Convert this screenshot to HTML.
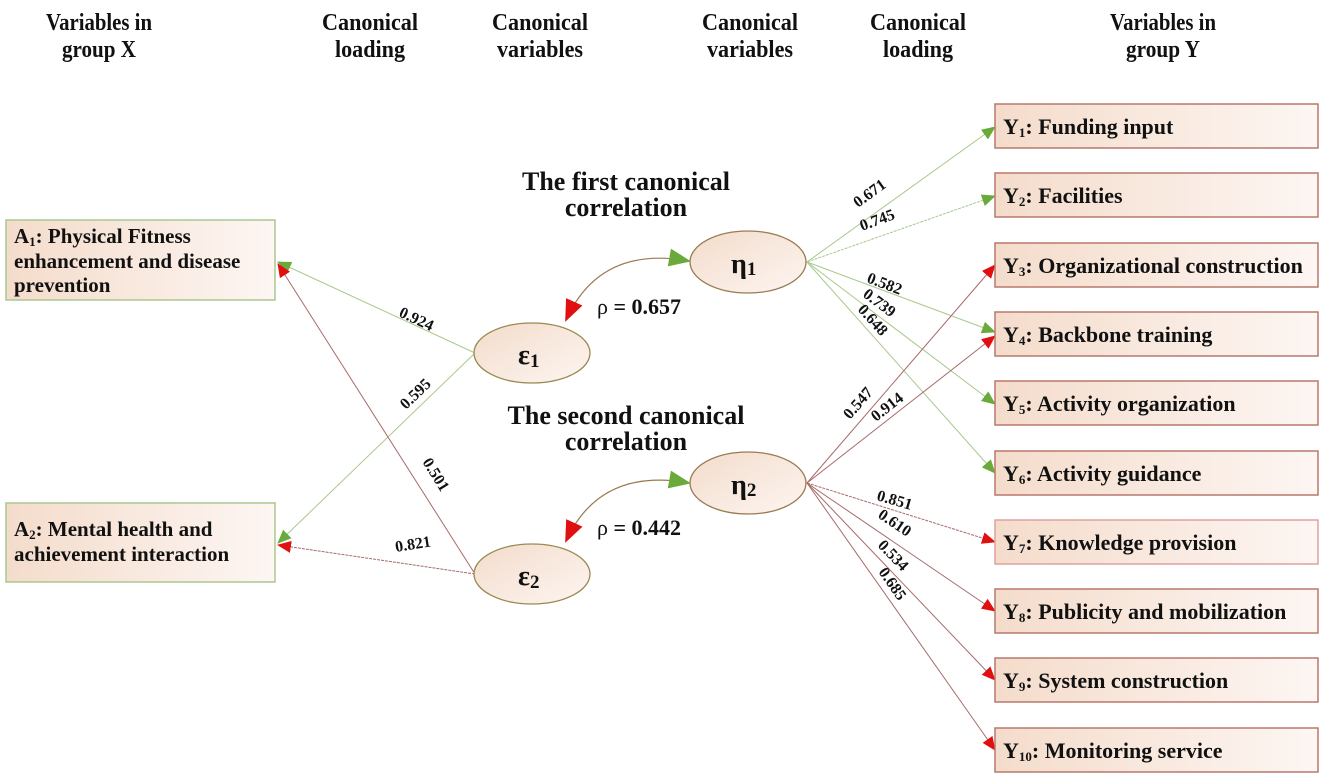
<!DOCTYPE html>
<html><head><meta charset="utf-8"><style>
html,body{margin:0;padding:0;background:#fff;}
svg{display:block;}
text{font-family:"Liberation Serif",serif;font-weight:bold;fill:#111;}
</style></head><body>
<svg width="1325" height="778" viewBox="0 0 1325 778" xmlns="http://www.w3.org/2000/svg">
<defs>
<linearGradient id="bx" x1="0" x2="1" y1="0" y2="0"><stop offset="0" stop-color="#f4dccb"/><stop offset="1" stop-color="#fdf6f3"/></linearGradient>
<linearGradient id="el" x1="0" x2="1" y1="0" y2="1"><stop offset="0" stop-color="#f3dccb"/><stop offset="1" stop-color="#fdf5f1"/></linearGradient>
<marker id="ag" markerWidth="14" markerHeight="12" refX="13" refY="6" orient="auto" markerUnits="userSpaceOnUse"><path d="M0,0 L14,6 L0,12 z" fill="#6aaa3a"/></marker>
<marker id="ar" markerWidth="14" markerHeight="12" refX="13" refY="6" orient="auto" markerUnits="userSpaceOnUse"><path d="M0,0 L14,6 L0,12 z" fill="#e01010"/></marker>
<marker id="bg" markerWidth="22" markerHeight="18" refX="20" refY="9" orient="auto-start-reverse" markerUnits="userSpaceOnUse"><path d="M0,0 L22,9 L0,18 z" fill="#6aaa3a"/></marker>
<marker id="br" markerWidth="22" markerHeight="18" refX="20" refY="9" orient="auto" markerUnits="userSpaceOnUse"><path d="M0,0 L22,9 L0,18 z" fill="#e01010"/></marker>
</defs>

<!-- headers -->
<g font-size="24" text-anchor="middle">
<text x="99" y="30" textLength="106" lengthAdjust="spacingAndGlyphs">Variables in</text>
<text x="99" y="57" textLength="74" lengthAdjust="spacingAndGlyphs">group X</text>
<text x="370" y="30" textLength="96" lengthAdjust="spacingAndGlyphs">Canonical</text>
<text x="370" y="57" textLength="70" lengthAdjust="spacingAndGlyphs">loading</text>
<text x="540" y="30" textLength="96" lengthAdjust="spacingAndGlyphs">Canonical</text>
<text x="540" y="57" textLength="86" lengthAdjust="spacingAndGlyphs">variables</text>
<text x="750" y="30" textLength="96" lengthAdjust="spacingAndGlyphs">Canonical</text>
<text x="750" y="57" textLength="86" lengthAdjust="spacingAndGlyphs">variables</text>
<text x="918" y="30" textLength="96" lengthAdjust="spacingAndGlyphs">Canonical</text>
<text x="918" y="57" textLength="70" lengthAdjust="spacingAndGlyphs">loading</text>
<text x="1163" y="30" textLength="106" lengthAdjust="spacingAndGlyphs">Variables in</text>
<text x="1163" y="57" textLength="74" lengthAdjust="spacingAndGlyphs">group Y</text>
</g>

<!-- left boxes -->
<rect x="6" y="220" width="269" height="80" fill="url(#bx)" stroke="#a9c98e" stroke-width="1.5"/>
<text x="14" y="243" font-size="21">A<tspan font-size="13" dy="3">1</tspan><tspan dy="-3">: Physical Fitness</tspan></text>
<text x="14" y="268" font-size="21">enhancement and disease</text>
<text x="14" y="292" font-size="21">prevention</text>
<rect x="6" y="503" width="269" height="79" fill="url(#bx)" stroke="#a9c98e" stroke-width="1.5"/>
<text x="14" y="536" font-size="21">A<tspan font-size="13" dy="3">2</tspan><tspan dy="-3">: Mental health and</tspan></text>
<text x="14" y="561" font-size="21">achievement interaction</text>

<!-- left lines -->
<line x1="475" y1="353" x2="278" y2="262" stroke="#a9c98e" stroke-width="1" marker-end="url(#ag)"/>
<line x1="475" y1="353" x2="278" y2="543" stroke="#a9c98e" stroke-width="1" marker-end="url(#ag)"/>
<line x1="475" y1="574" x2="278" y2="264" stroke="#a86a6a" stroke-width="1" marker-end="url(#ar)"/>
<line x1="475" y1="574" x2="278" y2="545" stroke="#a86a6a" stroke-width="1" stroke-dasharray="3,1" marker-end="url(#ar)"/>
<g font-size="16">
<text transform="translate(398,316) rotate(25)">0.924</text>
<text transform="translate(406,410) rotate(-44)">0.595</text>
<text transform="translate(422,462) rotate(58)">0.501</text>
<text transform="translate(396,552) rotate(-9)">0.821</text>
</g>

<!-- right lines -->
<g stroke-width="1">
<line x1="807" y1="262" x2="995" y2="127" stroke="#a9c98e" marker-end="url(#ag)"/>
<line x1="807" y1="262" x2="995" y2="196" stroke="#a9c98e" stroke-dasharray="3,1" marker-end="url(#ag)"/>
<line x1="807" y1="262" x2="995" y2="332" stroke="#a9c98e" marker-end="url(#ag)"/>
<line x1="807" y1="262" x2="995" y2="404" stroke="#a9c98e" marker-end="url(#ag)"/>
<line x1="807" y1="262" x2="995" y2="473" stroke="#a9c98e" marker-end="url(#ag)"/>
<line x1="807" y1="483" x2="995" y2="265" stroke="#a86a6a" marker-end="url(#ar)"/>
<line x1="807" y1="483" x2="995" y2="336" stroke="#a86a6a" marker-end="url(#ar)"/>
<line x1="807" y1="483" x2="995" y2="542" stroke="#a86a6a" stroke-dasharray="3,1" marker-end="url(#ar)"/>
<line x1="807" y1="483" x2="995" y2="611" stroke="#a86a6a" marker-end="url(#ar)"/>
<line x1="807" y1="483" x2="995" y2="680" stroke="#a86a6a" marker-end="url(#ar)"/>
<line x1="807" y1="483" x2="995" y2="750" stroke="#a86a6a" marker-end="url(#ar)"/>
</g>
<g font-size="16">
<text transform="translate(858,208) rotate(-36)">0.671</text>
<text transform="translate(862,231) rotate(-20)">0.745</text>
<text transform="translate(866,282) rotate(21)">0.582</text>
<text transform="translate(862,296) rotate(37)">0.739</text>
<text transform="translate(857,310) rotate(48)">0.648</text>
<text transform="translate(850,420) rotate(-49)">0.547</text>
<text transform="translate(876,422) rotate(-38)">0.914</text>
<text transform="translate(876,500) rotate(16)">0.851</text>
<text transform="translate(877,517) rotate(34)">0.610</text>
<text transform="translate(877,546) rotate(46)">0.534</text>
<text transform="translate(878,572) rotate(55)">0.685</text>
</g>

<!-- right boxes -->
<g>
<rect x="995" y="104" width="323" height="44" fill="url(#bx)" stroke="#b8786c" stroke-width="1.5"/>
<rect x="995" y="173" width="323" height="44" fill="url(#bx)" stroke="#b8786c" stroke-width="1.5"/>
<rect x="995" y="243" width="323" height="44" fill="url(#bx)" stroke="#b8786c" stroke-width="1.5"/>
<rect x="995" y="312" width="323" height="44" fill="url(#bx)" stroke="#b8786c" stroke-width="1.5"/>
<rect x="995" y="381" width="323" height="44" fill="url(#bx)" stroke="#b8786c" stroke-width="1.5"/>
<rect x="995" y="451" width="323" height="44" fill="url(#bx)" stroke="#b8786c" stroke-width="1.5"/>
<rect x="995" y="520" width="323" height="44" fill="url(#bx)" stroke="#e0a0a0" stroke-width="1.5"/>
<rect x="995" y="589" width="323" height="44" fill="url(#bx)" stroke="#b8786c" stroke-width="1.5"/>
<rect x="995" y="658" width="323" height="44" fill="url(#bx)" stroke="#b8786c" stroke-width="1.5"/>
<rect x="995" y="728" width="323" height="44" fill="url(#bx)" stroke="#b8786c" stroke-width="1.5"/>
</g>
<g font-size="22">
<text x="1003" y="134">Y<tspan font-size="13" dy="3">1</tspan><tspan dy="-3">: Funding input</tspan></text>
<text x="1003" y="203">Y<tspan font-size="13" dy="3">2</tspan><tspan dy="-3">: Facilities</tspan></text>
<text x="1003" y="273">Y<tspan font-size="13" dy="3">3</tspan><tspan dy="-3">: Organizational construction</tspan></text>
<text x="1003" y="342">Y<tspan font-size="13" dy="3">4</tspan><tspan dy="-3">: Backbone training</tspan></text>
<text x="1003" y="411">Y<tspan font-size="13" dy="3">5</tspan><tspan dy="-3">: Activity organization</tspan></text>
<text x="1003" y="481">Y<tspan font-size="13" dy="3">6</tspan><tspan dy="-3">: Activity guidance</tspan></text>
<text x="1003" y="550">Y<tspan font-size="13" dy="3">7</tspan><tspan dy="-3">: Knowledge provision</tspan></text>
<text x="1003" y="619">Y<tspan font-size="13" dy="3">8</tspan><tspan dy="-3">: Publicity and mobilization</tspan></text>
<text x="1003" y="688">Y<tspan font-size="13" dy="3">9</tspan><tspan dy="-3">: System construction</tspan></text>
<text x="1003" y="758">Y<tspan font-size="13" dy="3">10</tspan><tspan dy="-3">: Monitoring service</tspan></text>
</g>

<!-- titles -->
<g font-size="26" text-anchor="middle">
<text x="626" y="190">The first canonical</text>
<text x="626" y="216">correlation</text>
<text x="626" y="424">The second canonical</text>
<text x="626" y="450">correlation</text>
</g>

<!-- ellipses -->
<ellipse cx="532" cy="353" rx="58" ry="30" fill="url(#el)" stroke="#9a8a50" stroke-width="1.3"/>
<ellipse cx="532" cy="574" rx="58" ry="30" fill="url(#el)" stroke="#9a8a50" stroke-width="1.3"/>
<ellipse cx="748" cy="262" rx="58" ry="31" fill="url(#el)" stroke="#9a7a50" stroke-width="1.3"/>
<ellipse cx="748" cy="483" rx="58" ry="31" fill="url(#el)" stroke="#9a7a50" stroke-width="1.3"/>
<g font-size="28">
<text x="518" y="364">ε<tspan font-size="19" dy="3">1</tspan></text>
<text x="518" y="585">ε<tspan font-size="19" dy="3">2</tspan></text>
<text x="731" y="273">η<tspan font-size="19" dy="2">1</tspan></text>
<text x="731" y="494">η<tspan font-size="19" dy="2">2</tspan></text>
</g>

<!-- curved arrows -->
<path d="M689,261 Q600,245 566,320" fill="none" stroke="#9a7a50" stroke-width="1.2" marker-end="url(#br)" marker-start="url(#bg)"/>
<path d="M689,483 Q600,467 566,541" fill="none" stroke="#9a7a50" stroke-width="1.2" marker-end="url(#br)" marker-start="url(#bg)"/>
<g font-size="22">
<text x="597" y="314"><tspan font-weight="normal">ρ</tspan> = 0.657</text>
<text x="597" y="535"><tspan font-weight="normal">ρ</tspan> = 0.442</text>
</g>
</svg>
</body></html>
